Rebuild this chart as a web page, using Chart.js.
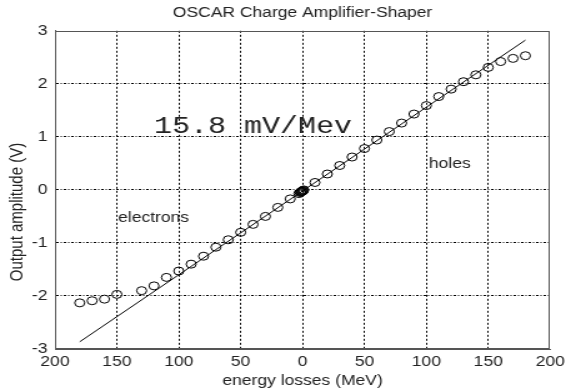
<!DOCTYPE html>
<html>
<head>
<meta charset="utf-8">
<title>OSCAR Charge Amplifier-Shaper</title>
<script src="https://cdn.jsdelivr.net/npm/chart.js@4/dist/chart.umd.min.js"></script>
<style>
  html, body { margin: 0; padding: 0; background: #fff; overflow: hidden; }
</style>
</head>
<body>
<!-- laid out 457 px wide, stretched to 571 px by the inline style -->
<canvas id="chart" width="457" height="392" style="display:block;width:571px;height:392px"></canvas>
<script>
// Shaper output vs energy deposited in the detector.
// Negative energies are electron signals, positive ones hole signals.
const energyMeV = [
  -180, -170, -160, -150, -130, -120, -110, -100, -90, -80, -70, -60, -50, -40, -30, -20, -10,
  -3, -2, -1.5, -1, -0.5, 0, 0.5, 1,
  10, 20, 30, 40, 50, 60, 70, 80, 90, 100, 110, 120, 130, 140, 150, 160, 170, 180
];
const outputV = [
  -2.13, -2.09, -2.06, -1.97, -1.90, -1.81, -1.65, -1.53, -1.40, -1.25, -1.08, -0.94, -0.80, -0.65, -0.50, -0.33, -0.17,
  -0.07, -0.05, -0.04, -0.03, -0.03, -0.02, -0.01, 0.00,
  0.14, 0.30, 0.46, 0.62, 0.78, 0.94, 1.10, 1.26, 1.43, 1.59, 1.76, 1.90, 2.04, 2.17, 2.31, 2.42, 2.48, 2.53
];

// linear fit of the central region
const gainMvPerMeV = 15.8;
const fitOffsetV = -0.02;
const fitRangeMeV = [-180, 180];

const xTicks = [-200, -150, -100, -50, 0, 50, 100, 150, 200];
const yTicks = [-3, -2, -1, 0, 1, 2, 3];

const sans = '"Liberation Sans", Arial, Helvetica, sans-serif';
const mono = '"Courier New", "Liberation Mono", monospace';

const notes = [
  { text: gainMvPerMeV.toFixed(1) + ' mV/Mev', x: -120, y: 1.08, font: '24px ' + mono },
  { text: 'holes', x: 102, y: 0.42, font: '14px ' + sans },
  { text: 'electrons', x: -149, y: -0.6, font: '14px ' + sans }
];

const points = energyMeV.map((e, i) => ({ x: e, y: outputV[i] }));
const fitLine = fitRangeMeV.map(e => ({ x: e, y: e * gainMvPerMeV / 1000 + fitOffsetV }));

// dotted grid everywhere except on the frame itself
function gridColor(ctx) {
  const s = ctx.scale;
  if (ctx.tick && (ctx.tick.value === s.min || ctx.tick.value === s.max)) return 'rgba(0,0,0,0)';
  return '#000';
}

// frame on all four sides, y axis title and the text notes inside the plot
const extras = {
  id: 'extras',
  afterDraw(chart) {
    const { ctx, chartArea: a, scales: { x, y } } = chart;
    ctx.save();
    ctx.strokeStyle = '#555';
    ctx.lineWidth = 1;
    ctx.strokeRect(Math.round(a.left) + 0.5, Math.round(a.top) + 0.5,
      Math.round(a.right - a.left) - 1, Math.round(a.bottom - a.top) - 1);

    ctx.fillStyle = '#222';
    ctx.textAlign = 'left';
    ctx.textBaseline = 'alphabetic';
    notes.forEach(n => {
      ctx.font = n.font;
      ctx.fillText(n.text, x.getPixelForValue(n.x), y.getPixelForValue(n.y));
    });

    ctx.translate(14, 212);
    ctx.rotate(-Math.PI / 2);
    ctx.textAlign = 'center';
    ctx.textBaseline = 'middle';
    ctx.font = '15px ' + sans;
    ctx.fillText('Output amplitude (V)', 0, 0);
    ctx.restore();
  }
};

new Chart(document.getElementById('chart'), {
  type: 'scatter',
  data: {
    datasets: [
      {
        label: 'measured',
        data: points,
        pointStyle: 'circle',
        pointRadius: 4,
        pointHoverRadius: 4,
        borderWidth: 1,
        borderColor: '#000',
        backgroundColor: 'rgba(0,0,0,0)'
      },
      {
        label: 'fit',
        data: fitLine,
        showLine: true,
        pointRadius: 0,
        borderWidth: 1,
        borderColor: '#000'
      }
    ]
  },
  options: {
    responsive: false,
    animation: false,
    devicePixelRatio: 1,
    layout: { padding: { left: 0, right: 14, top: 0, bottom: 0 } },
    plugins: {
      legend: { display: false },
      tooltip: { enabled: false },
      title: {
        display: true,
        fullSize: false,
        text: 'OSCAR Charge Amplifier-Shaper',
        color: '#222',
        font: { family: sans, size: 14, weight: 'normal' },
        padding: { top: 5, bottom: 9 }
      }
    },
    scales: {
      x: {
        type: 'linear',
        min: xTicks[0],
        max: xTicks[xTicks.length - 1],
        afterBuildTicks: s => { s.ticks = xTicks.map(v => ({ value: v })); },
        afterFit: s => { s.height = 43; },
        ticks: {
          callback: v => Math.abs(v),
          color: '#222',
          font: { family: sans, size: 14 },
          padding: 5,
          maxRotation: 0,
          autoSkip: false
        },
        grid: { color: gridColor, lineWidth: 1, drawTicks: false },
        border: { color: '#555', dash: [2, 2] },
        title: {
          display: true,
          text: 'energy losses (MeV)',
          color: '#222',
          font: { family: sans, size: 14 },
          padding: { top: 0, bottom: 2 }
        }
      },
      y: {
        type: 'linear',
        min: yTicks[0],
        max: yTicks[yTicks.length - 1],
        afterBuildTicks: s => { s.ticks = yTicks.map(v => ({ value: v })); },
        afterFit: s => { s.width = 44; },
        ticks: {
          color: '#222',
          font: { family: sans, size: 14 },
          padding: 6
        },
        grid: { color: gridColor, lineWidth: 1, drawTicks: false },
        // dash-dot horizontal grid
        border: { color: '#555', dash: [2, 1.5, 1, 1.5] }
      }
    }
  },
  plugins: [extras]
});
</script>
</body>
</html>
